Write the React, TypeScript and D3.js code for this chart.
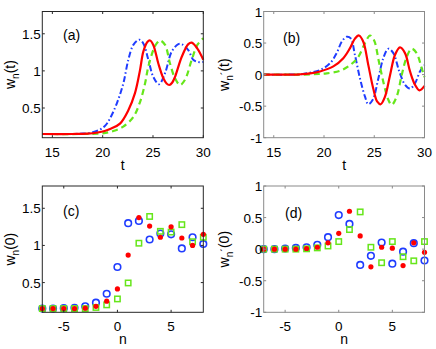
import React from "react";
import * as d3 from "d3";

// ---------- data ----------
const tTicks = [15, 20, 25, 30];
const nTicks = [-5, 0, 5];
const wTicks = [0.5, 1, 1.5];
const dwTicks = [-1, -0.5, 0, 0.5, 1];

const aRed: [number, number][] = [[14,0.15],[17,0.15],[18.5,0.155],[19.5,0.17],[20.2,0.19],[20.73,0.216],[21.72,0.29],[22.55,0.47],[23.21,0.70],[23.71,1.01],[24.04,1.26],[24.44,1.39],[24.71,1.41],[25.03,1.35],[25.53,1.10],[26.03,0.90],[26.35,0.83],[26.62,0.81],[26.9,0.84],[27.19,0.92],[27.86,1.19],[28.51,1.36],[28.85,1.38],[29.41,1.30],[30,1.15]];
const aBlue: [number, number][] = [[14,0.15],[17,0.15],[18,0.155],[18.75,0.165],[19.74,0.21],[20.3,0.27],[20.73,0.36],[21.4,0.56],[22.05,0.83],[22.55,1.15],[23.05,1.35],[23.64,1.42],[24.04,1.37],[24.54,1.15],[25.03,0.92],[25.6,0.82],[26.2,0.97],[26.86,1.26],[27.52,1.36],[27.85,1.36],[28.51,1.28],[29.0,1.15],[29.5,1.12],[30,1.12]];
const aGreen: [number, number][] = [[14,0.15],[18,0.15],[19.5,0.155],[20.3,0.165],[21.06,0.19],[22.05,0.25],[23.05,0.38],[23.71,0.58],[24.21,0.83],[24.54,1.06],[25.03,1.28],[25.37,1.37],[25.7,1.41],[26.2,1.35],[26.69,1.10],[27.19,0.90],[27.69,0.81],[28.18,0.88],[28.85,1.15],[29.41,1.35],[30,1.44]];

const bRed: [number, number][] = [[14,0],[17,0],[17.6,0.005],[18.6,0.02],[19.6,0.05],[20.93,0.13],[21.92,0.26],[22.59,0.42],[23.08,0.57],[23.48,0.62],[23.91,0.52],[24.41,0.15],[24.9,-0.22],[25.3,-0.43],[25.64,-0.47],[26.07,-0.35],[26.57,-0.01],[27.06,0.31],[27.56,0.43],[28.06,0.34],[28.56,0.05],[29.05,-0.16],[29.5,-0.25],[30,-0.18]];
const bBlue: [number, number][] = [[14,0],[16.5,0],[17.6,0.005],[18.6,0.03],[19.6,0.07],[20.6,0.18],[21.26,0.34],[21.76,0.52],[22.26,0.60],[22.66,0.575],[23.08,0.31],[23.58,-0.06],[24.08,-0.35],[24.41,-0.47],[24.85,-0.40],[25.41,-0.06],[25.9,0.26],[26.4,0.41],[26.9,0.34],[27.49,0.05],[28.06,-0.16],[28.56,-0.22],[29.05,-0.14],[29.55,0.05],[30,0.15]];
const bGreen: [number, number][] = [[14,0],[18,0],[19.5,0.01],[20.27,0.02],[21.59,0.06],[22.59,0.15],[23.41,0.28],[24.08,0.50],[24.58,0.62],[24.97,0.55],[25.47,0.20],[25.97,-0.16],[26.4,-0.40],[26.74,-0.48],[27.23,-0.35],[27.73,-0.01],[28.23,0.28],[28.73,0.41],[29.22,0.34],[29.72,0.10],[30,-0.04]];

const nSites = [-7,-6,-5,-4,-3,-2,-1,0,1,2,3,4,5,6,7,8];
const cBlue = [0.15,0.15,0.155,0.16,0.18,0.23,0.35,0.71,1.30,1.33,1.08,1.16,1.15,0.96,1.11,1.02];
const cRed = [0.15,0.15,0.15,0.15,0.155,0.18,0.25,0.415,0.87,1.375,1.26,1.11,1.25,1.10,1.0,1.15];
const cGreen = [0.15,0.15,0.15,0.15,0.15,0.165,0.2,0.28,0.495,1.03,1.39,1.19,1.18,1.28,1.05,1.11];
const dBlue = [0,0,0.01,0.02,0.03,0.07,0.19,0.54,0.40,-0.25,-0.105,0.105,-0.23,-0.04,0.095,-0.18];
const dRed = [0,0,0,0,0.01,0.03,0.1,0.25,0.6,0.21,-0.28,0.03,0.015,-0.26,0.1,-0.05];
const dGreen = [0,0,0,0,0.005,0.02,0.05,0.12,0.31,0.59,0.03,-0.215,0.12,-0.12,-0.185,0.12];

// ---------- style ----------
const RED = "#ff0000";
const BLUE = "#1f3cff";
const GREEN = "#66e61a";
const FONT = "'Liberation Sans', Arial, Helvetica, sans-serif";

type PanelProps = {
  x0: number; x1: number; y0: number; y1: number;
  xDom: [number, number]; yDom: [number, number];
  xTicks: number[]; yTicks: number[];
  frame: string; label: string; labelPos: [number, number];
  xLabel: string; yMain: string; yArg: string; prime: boolean;
  yLabelX: number;
  children: (xs: d3.ScaleLinear<number, number>, ys: d3.ScaleLinear<number, number>) => React.ReactNode;
};

function Panel(p: PanelProps) {
  const xs = d3.scaleLinear().domain(p.xDom).range([p.x0, p.x1]);
  const ys = d3.scaleLinear().domain(p.yDom).range([p.y1, p.y0]);
  const tl = 2.5;
  const cy = (p.y0 + p.y1) / 2;
  const cx = (p.x0 + p.x1) / 2;
  return (
    <g>
      {p.children(xs, ys)}
      <rect x={p.x0} y={p.y0} width={p.x1 - p.x0} height={p.y1 - p.y0} fill="none" stroke={p.frame} strokeWidth={1} />
      {p.xTicks.map((t) => (
        <g key={"x" + t}>
          <line x1={xs(t)} x2={xs(t)} y1={p.y1} y2={p.y1 - tl} stroke={p.frame} />
          <line x1={xs(t)} x2={xs(t)} y1={p.y0} y2={p.y0 + tl} stroke={p.frame} />
          <text x={xs(t)} y={p.y1 + 19} textAnchor="middle" fontSize={13.5} fontFamily={FONT} fill="#000">
            {t < 0 ? "-" + Math.abs(t) : String(t)}
          </text>
        </g>
      ))}
      {p.yTicks.map((t) => (
        <g key={"y" + t}>
          <line x1={p.x0} x2={p.x0 + tl} y1={ys(t)} y2={ys(t)} stroke={p.frame} />
          <line x1={p.x1} x2={p.x1 - tl} y1={ys(t)} y2={ys(t)} stroke={p.frame} />
          <text x={p.x0 - 1.5} y={ys(t) + 5} textAnchor="end" fontSize={13.5} fontFamily={FONT} fill="#000">
            {t < 0 ? "-" + String(Math.abs(t)).replace(/^0\./, "0.") : String(t)}
          </text>
        </g>
      ))}
      <text x={p.labelPos[0]} y={p.labelPos[1]} fontSize={14} fontFamily={FONT} fill="#000">{p.label}</text>
      <text x={cx} y={p.y1 + 32} textAnchor="middle" fontSize={14} fontFamily={FONT} fill="#000">{p.xLabel}</text>
      <text transform={`translate(${p.yLabelX},${cy}) rotate(-90)`} textAnchor="middle" fontSize={14} fontFamily={FONT} fill="#000">
        {p.yMain}
        <tspan fontSize={10} dy={4}>n</tspan>
        {p.prime ? <tspan fontSize={11} dy={-4}>´</tspan> : null}
        <tspan dy={p.prime ? 0 : -4}>{p.yArg}</tspan>
      </text>
    </g>
  );
}

function Lines({ xs, ys, red, blue, green }: any) {
  const line = d3.line<[number, number]>().x((d) => xs(d[0])).y((d) => ys(d[1])).curve(d3.curveCatmullRom.alpha(0.5));
  return (
    <g fill="none">
      <path d={line(blue) || ""} stroke={BLUE} strokeWidth={2} strokeDasharray="6,2.5,1.5,2.5" />
      <path d={line(green) || ""} stroke={GREEN} strokeWidth={2.2} strokeDasharray="6,4" />
      <path d={line(red) || ""} stroke={RED} strokeWidth={2.2} />
    </g>
  );
}

function Markers({ xs, ys, blue, red, green }: any) {
  return (
    <g>
      {nSites.map((n, i) => (
        <circle key={"b" + n} cx={xs(n)} cy={ys(blue[i])} r={3.3} fill="none" stroke={BLUE} strokeWidth={1.6} />
      ))}
      {nSites.map((n, i) => (
        <rect key={"g" + n} x={xs(n) - 2.7} y={ys(green[i]) - 2.7} width={5.4} height={5.4} fill="none" stroke={GREEN} strokeWidth={1.5} />
      ))}
      {nSites.map((n, i) => (
        <circle key={"r" + n} cx={xs(n)} cy={ys(red[i])} r={2.6} fill={RED} />
      ))}
    </g>
  );
}

export default function App() {
  const L = [42.3, 203.3];
  const R = [263.7, 424.5];
  const T = [11.5, 137.7];
  const B = [186, 312.3];
  return (
    <svg width={436} height={349} style={{ position: "absolute", left: 0, top: 0, background: "#fff" }}>
      <rect width={436} height={349} fill="#fff" />
      <Panel x0={L[0]} x1={L[1]} y0={T[0]} y1={T[1]} xDom={[14, 30]} yDom={[0.1, 1.8]} xTicks={tTicks} yTicks={wTicks}
        frame="#262626" label="(a)" labelPos={[63, 40]} xLabel="t" yMain="w" yArg="(t)" prime={false} yLabelX={15}>
        {(xs, ys) => <Lines xs={xs} ys={ys} red={aRed} blue={aBlue} green={aGreen} />}
      </Panel>
      <Panel x0={R[0]} x1={R[1]} y0={T[0]} y1={T[1]} xDom={[14, 30]} yDom={[-1, 1]} xTicks={tTicks} yTicks={dwTicks}
        frame="#8a8a8a" label="(b)" labelPos={[283, 43]} xLabel="t" yMain="w" yArg="(t)" prime={true} yLabelX={229}>
        {(xs, ys) => <Lines xs={xs} ys={ys} red={bRed} blue={bBlue} green={bGreen} />}
      </Panel>
      <Panel x0={L[0]} x1={L[1]} y0={B[0]} y1={B[1]} xDom={[-7, 8]} yDom={[0.1, 1.8]} xTicks={nTicks} yTicks={wTicks}
        frame="#262626" label="(c)" labelPos={[63, 216]} xLabel="n" yMain="w" yArg="(0)" prime={false} yLabelX={15}>
        {(xs, ys) => <Markers xs={xs} ys={ys} red={cRed} blue={cBlue} green={cGreen} />}
      </Panel>
      <Panel x0={R[0]} x1={R[1]} y0={B[0]} y1={B[1]} xDom={[-7, 8]} yDom={[-1, 1]} xTicks={nTicks} yTicks={dwTicks}
        frame="#8a8a8a" label="(d)" labelPos={[285, 218]} xLabel="n" yMain="w" yArg="(0)" prime={true} yLabelX={229}>
        {(xs, ys) => <Markers xs={xs} ys={ys} red={dRed} blue={dBlue} green={dGreen} />}
      </Panel>
    </svg>
  );
}
